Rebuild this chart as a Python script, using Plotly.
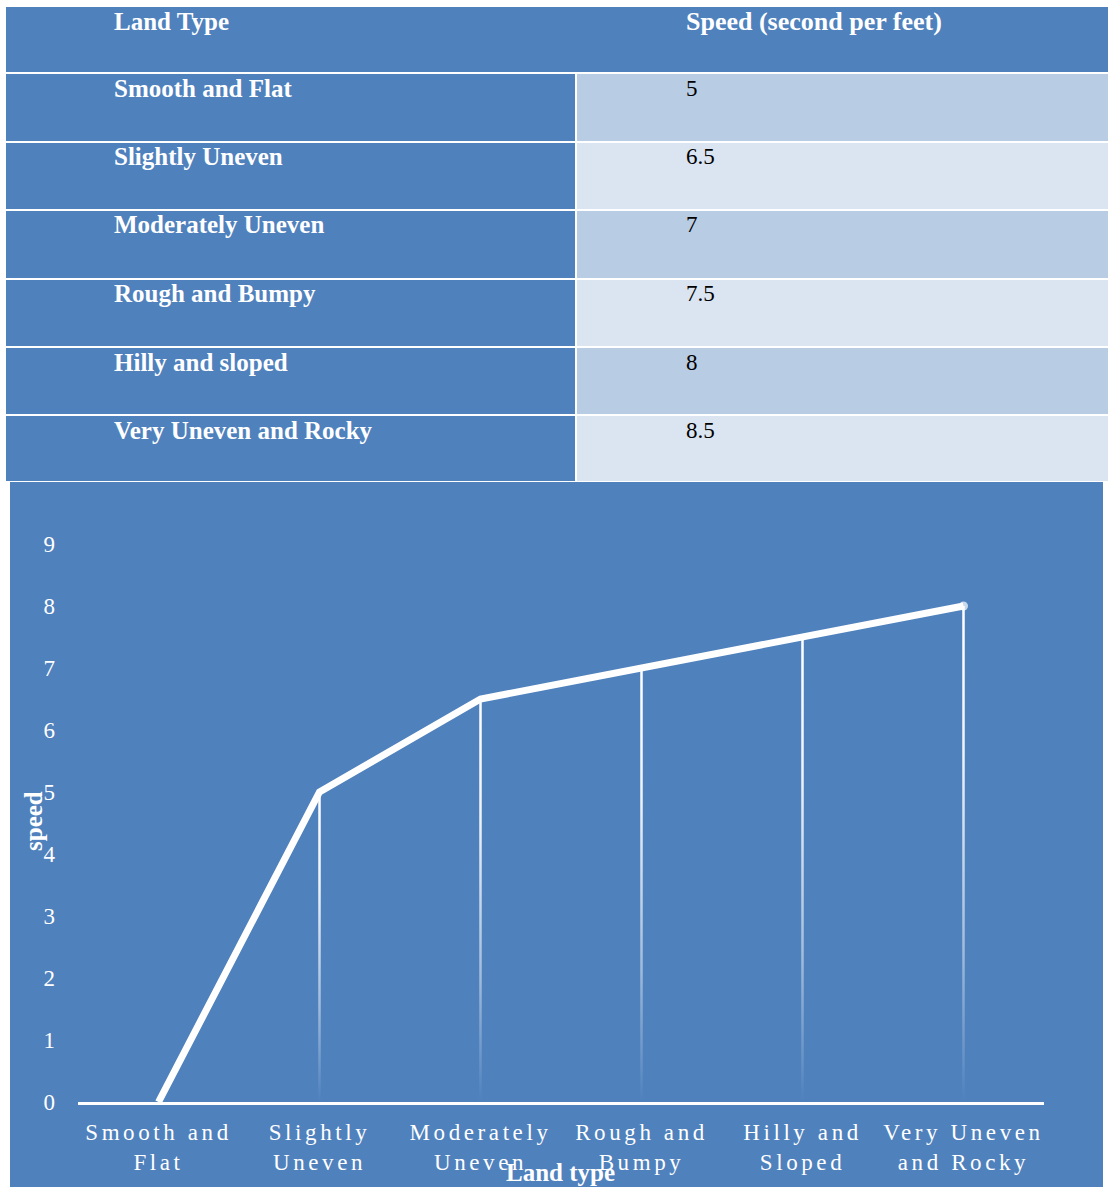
import plotly.graph_objects as go

# ---- data ----
table_header = ["Land Type", "Speed (second per feet)"]
land_types = ["Smooth and Flat", "Slightly Uneven", "Moderately Uneven",
              "Rough and Bumpy", "Hilly and sloped", "Very Uneven and Rocky"]
table_speeds = ["5", "6.5", "7", "7.5", "8", "8.5"]

chart_labels = ["Smooth and<br>Flat", "Slightly<br>Uneven", "Moderately<br>Uneven",
                "Rough and<br>Bumpy", "Hilly and<br>Sloped", "Very Uneven<br>and Rocky"]
chart_speed = [0, 5, 6.5, 7, 7.5, 8]
y_ticks = [0, 1, 2, 3, 4, 5, 6, 7, 8, 9]

# ---- styling ----
W, H = 1108, 1187
BLUE = "#4F81BD"
LIGHT1 = "#B8CCE4"
LIGHT2 = "#DBE5F1"
SERIF = "Liberation Serif"


def px(x):
    return x / W


def py(y):
    return 1 - y / H


fig = go.Figure()
shapes = []
annotations = []

# ---- table drawn as paper shapes + text ----
header_top, header_bottom = 7, 72
row_tops = [74, 143, 211, 280, 348, 416]
row_bottoms = [141, 209, 278, 346, 414, 481]
tbl_left, tbl_mid, tbl_right = 6, 575, 1108
text_x_left, text_x_right = 112, 684

shapes.append(dict(type="rect", xref="paper", yref="paper",
                   x0=px(tbl_left), x1=px(tbl_right),
                   y0=py(header_bottom), y1=py(header_top),
                   fillcolor=BLUE, line=dict(width=0), layer="below"))
for text, x, size in zip(table_header, [text_x_left, text_x_right], [25, 26]):
    annotations.append(dict(xref="paper", yref="paper", x=px(x), y=py(header_top + 14),
                            xanchor="left", yanchor="middle", showarrow=False,
                            text="<b>%s</b>" % text,
                            font=dict(family=SERIF, size=size, color="white")))

for i, (name, val) in enumerate(zip(land_types, table_speeds)):
    t, b = row_tops[i], row_bottoms[i]
    shapes.append(dict(type="rect", xref="paper", yref="paper",
                       x0=px(tbl_left), x1=px(tbl_mid), y0=py(b), y1=py(t),
                       fillcolor=BLUE, line=dict(width=0), layer="below"))
    shapes.append(dict(type="rect", xref="paper", yref="paper",
                       x0=px(tbl_mid + 2), x1=px(tbl_right), y0=py(b), y1=py(t),
                       fillcolor=LIGHT1 if i % 2 == 0 else LIGHT2,
                       line=dict(width=0), layer="below"))
    annotations.append(dict(xref="paper", yref="paper", x=px(text_x_left), y=py(t + 14),
                            xanchor="left", yanchor="middle", showarrow=False,
                            text="<b>%s</b>" % name,
                            font=dict(family=SERIF, size=25, color="white")))
    annotations.append(dict(xref="paper", yref="paper", x=px(text_x_right), y=py(t + 14),
                            xanchor="left", yanchor="middle", showarrow=False,
                            text=val,
                            font=dict(family=SERIF, size=23, color="black")))

# ---- chart background panel ----
shapes.append(dict(type="rect", xref="paper", yref="paper",
                   x0=px(10), x1=px(1103), y0=0, y1=py(482),
                   fillcolor=BLUE, line=dict(width=0), layer="below"))

# ---- drop lines (thin polygons with a vertical fade) ----
half_w = 0.0078
fade = [[0.0, "rgba(255,255,255,0)"], [0.3, "rgba(255,255,255,0.45)"],
        [0.7, "rgba(255,255,255,0.9)"], [1.0, "rgba(255,255,255,1)"]]
for i, v in enumerate(chart_speed):
    if v <= 0:
        continue
    fig.add_trace(go.Scatter(
        x=[i - half_w, i + half_w, i + half_w, i - half_w, i - half_w],
        y=[0, 0, v, v, 0],
        mode="lines", fill="toself", line=dict(width=0),
        fillgradient=dict(type="vertical", colorscale=fade),
        hoverinfo="skip", showlegend=False))

# ---- main series ----
marker_sizes = [0] * (len(chart_speed) - 1) + [9]
fig.add_trace(go.Scatter(
    x=list(range(len(chart_speed))), y=chart_speed,
    mode="lines+markers",
    line=dict(color="white", width=7),
    marker=dict(color="white", size=marker_sizes, line=dict(width=0)),
    showlegend=False))

# ---- axis titles ----
annotations.append(dict(xref="paper", yref="paper", x=px(560), y=py(1172),
                        xanchor="center", yanchor="middle", showarrow=False,
                        text="<b>Land type</b>",
                        font=dict(family=SERIF, size=25, color="white")))
annotations.append(dict(xref="paper", yref="paper", x=px(33), y=py(821),
                        xanchor="center", yanchor="middle", showarrow=False,
                        textangle=-90, text="<b>speed</b>",
                        font=dict(family=SERIF, size=25, color="white")))

fig.update_layout(
    width=W, height=H, autosize=False,
    margin=dict(l=0, r=0, t=0, b=0),
    paper_bgcolor="white",
    plot_bgcolor="rgba(0,0,0,0)",
    shapes=shapes,
    annotations=annotations,
    xaxis=dict(domain=[px(78), px(1044)], range=[-0.5, 5.5], automargin=False,
               tickmode="array", tickvals=list(range(len(chart_labels))),
               ticktext=chart_labels, showgrid=False, zeroline=False,
               showline=True, linecolor="white", linewidth=3,
               ticks="", ticklabelstandoff=7,
               tickfont=dict(family=SERIF, size=23, color="white")),
    yaxis=dict(domain=[py(1102), py(482)], range=[0, 10], automargin=False,
               tickmode="array", tickvals=y_ticks,
               showgrid=False, zeroline=False, showline=False,
               ticks="", ticklabelstandoff=22,
               tickfont=dict(family=SERIF, size=23, color="white")),
)

# page reset and wide letter spacing for the category labels
post = """
document.body.style.margin = '0';
document.body.style.overflow = 'hidden';
var st = document.createElement('style');
st.textContent = '.xtick text { letter-spacing: 3.6px; }';
document.head.appendChild(st);
"""
fig.write_html("out.html", post_script=post, config={"responsive": False})
